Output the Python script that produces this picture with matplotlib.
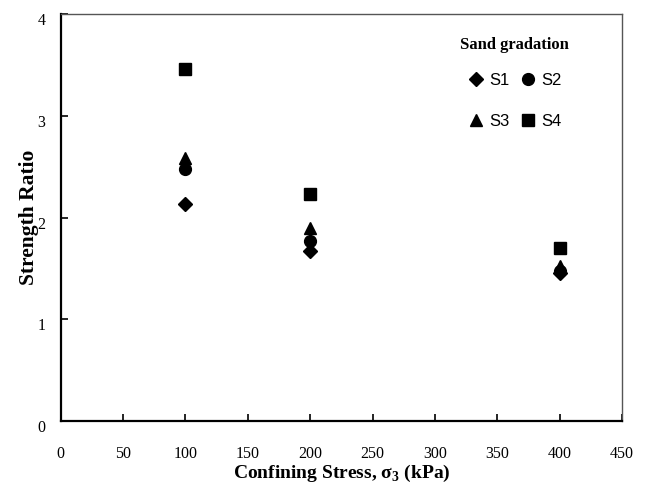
import matplotlib as mpl
import matplotlib.pyplot as plt
import matplotlib.transforms as mtransforms
import numpy as np

mpl.rcParams["font.family"] = "Liberation Serif"
mpl.rcParams["mathtext.fontset"] = "custom"
mpl.rcParams["mathtext.rm"] = "Liberation Serif"
mpl.rcParams["mathtext.bf"] = "Liberation Serif:bold"

stress = [100, 200, 400]
s1 = [2.13, 1.67, 1.45]
s2 = [2.48, 1.77, 1.47]
s3 = [2.59, 1.90, 1.52]
s4 = [3.46, 2.23, 1.70]

f = plt.figure(figsize=(6.46, 4.90), dpi=100)
ax = f.add_axes([0.094, 0.141, 0.869, 0.830])

h1, = ax.plot(stress, s1, "D", color="k", ms=7, ls="none", label="S1")
h2, = ax.plot(stress, s2, "o", color="k", ms=8.5, ls="none", label="S2")
h3, = ax.plot(stress, s3, "^", color="k", ms=9, ls="none", label="S3")
h4, = ax.plot(stress, s4, "s", color="k", ms=8.5, ls="none", label="S4")

ax.set_xlim(0, 450)
ax.set_ylim(0, 4)
ax.set_xticks(np.arange(0, 451, 50))
ax.set_yticks(np.arange(0, 5, 1))
ax.tick_params(axis="both", direction="in", labelsize=11.5, length=5, width=1.2)
ax.tick_params(axis="x", pad=18)
ax.tick_params(axis="y", pad=11)
# y tick labels sit a little below their ticks in the original
shift = mtransforms.ScaledTranslation(0, -5 / 100, f.dpi_scale_trans)
for lab in ax.get_yticklabels():
    lab.set_transform(lab.get_transform() + shift)
for side in ["left", "bottom"]:
    ax.spines[side].set_linewidth(1.6)
for side in ["top", "right"]:
    ax.spines[side].set_linewidth(1.0)
    ax.spines[side].set_color("#555555")

ax.set_xlabel(r"Confining Stress, σ$_\mathbf{3}$ (kPa)", size=14, weight="bold", labelpad=1)
ax.set_ylabel("Strength Ratio", size=15.5, weight="bold", labelpad=-1)

leg = ax.legend(
    [h1, h3, h2, h4], ["S1", "S3", "S2", "S4"],
    ncol=2, frameon=False, title="Sand gradation",
    loc="upper left", bbox_to_anchor=(0.70, 0.96),
    prop={"family": "Liberation Sans", "size": 12},
    labelspacing=1.6, columnspacing=0.6, handletextpad=0.3,
    handlelength=1.0, borderaxespad=0,
)
leg.get_title().set_fontweight("bold")
leg.get_title().set_fontsize(12)
leg._legend_box.sep = 14

f.savefig("out.png", facecolor="w", dpi=100)
